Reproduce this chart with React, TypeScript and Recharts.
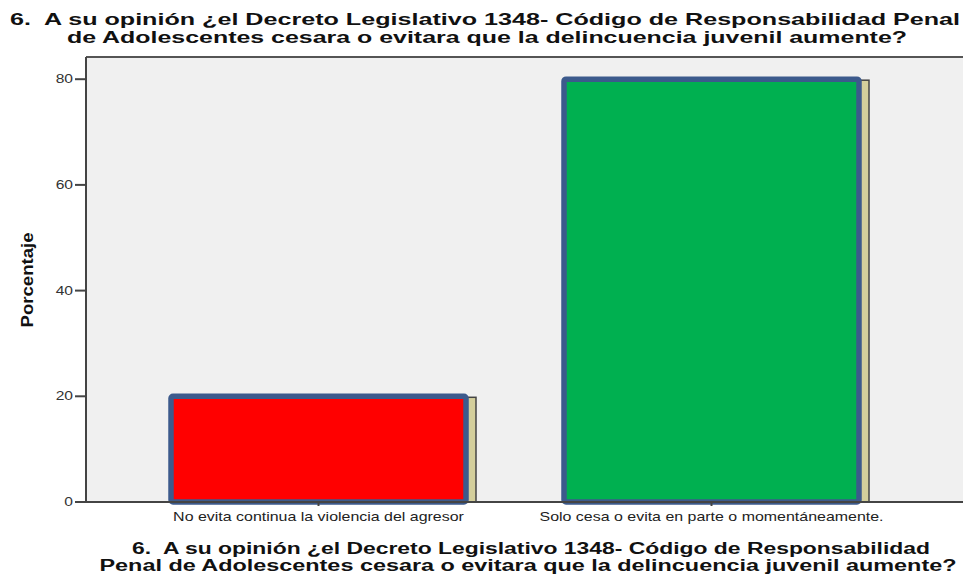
import { BarChart, Bar, XAxis, YAxis, CartesianGrid, ReferenceLine } from 'recharts'

const categories = [
  'No evita continua la violencia del agresor',
  'Solo cesa o evita en parte o momentáneamente.',
]
const porcentajes = [20, 80]
const barColors = ['#ff0000', '#00b050']
const yTicks = [0, 20, 40, 60, 80]
const yMax = 84.2

const titleLines = [
  '6.  A su opinión ¿el Decreto Legislativo 1348- Código de Responsabilidad Penal',
  'de Adolescentes cesara o evitara que la delincuencia juvenil aumente?',
]
const axisTitleLines = [
  '6.  A su opinión ¿el Decreto Legislativo 1348- Código de Responsabilidad',
  'Penal de Adolescentes cesara o evitara que la delincuencia juvenil aumente?',
]

const data = categories.map((name, i) => ({ name, value: porcentajes[i], color: barColors[i] }))

const FONT = '"Liberation Sans", Arial, sans-serif'
// the SPSS export is stretched sideways, so texts get widened
const STRETCH = 1.33

// tan drop shadow on the right, then the bar with a thick blue outline
const ShadowBar = (props: any) => {
  const { x, y, width, height, payload } = props
  return (
    <g>
      <rect x={x + 10} y={y + 1} width={width} height={height - 1} fill="#d4cf9c" stroke="#444" strokeWidth={1.5} />
      <rect x={x} y={y} width={width} height={height} fill={payload.color} stroke="#3c5a8c" strokeWidth={5.5} rx={2} />
    </g>
  )
}

const XTick = (props: any) => {
  const { x, y, payload } = props
  return (
    <g transform={`translate(${x},${y + 13}) scale(${STRETCH},1)`}>
      <text x={0} y={0} textAnchor="middle" fontFamily={FONT} fontSize={12} fill="#222">
        {payload.value}
      </text>
    </g>
  )
}

const YTick = (props: any) => {
  const { x, y, payload } = props
  return (
    <g transform={`translate(${x},${y + 4}) scale(1.3,1)`}>
      <text x={0} y={0} textAnchor="end" fontFamily={FONT} fontSize={12} fill="#333">
        {payload.value}
      </text>
    </g>
  )
}

const YLabel = () => (
  <text
    x={33}
    y={280}
    transform="rotate(-90 33 280)"
    textAnchor="middle"
    fontFamily={FONT}
    fontWeight="bold"
    fontSize={17}
    textLength={95}
    lengthAdjust="spacingAndGlyphs"
    fill="#111"
  >
    Porcentaje
  </text>
)

const pre = { whiteSpace: 'pre' } as const

export default function App() {
  return (
    <div style={{ position: 'absolute', left: 0, top: 0, width: 963, height: 575, background: '#fff' }}>
      <BarChart width={963} height={575} data={data} margin={{ top: 57, right: 0, bottom: 43, left: 0 }}>
        <CartesianGrid fill="#f0f0f0" horizontal={false} vertical={false} />
        <ReferenceLine y={yMax} stroke="#555" strokeWidth={2} />
        <XAxis
          dataKey="name"
          height={30}
          padding={{ left: 36, right: 55 }}
          stroke="#444"
          strokeWidth={2}
          tickSize={4}
          tick={<XTick />}
        />
        <YAxis
          width={86}
          domain={[0, yMax]}
          ticks={yTicks}
          stroke="#444"
          strokeWidth={2}
          tickSize={11}
          tickMargin={2}
          tick={<YTick />}
          label={<YLabel />}
        />
        <Bar dataKey="value" barSize={295} shape={<ShadowBar />} isAnimationActive={false} />
      </BarChart>
      <svg width={963} height={575} style={{ position: 'absolute', left: 0, top: 0, pointerEvents: 'none' }}>
        <g fontFamily={FONT} fontWeight="bold" fill="#111" textAnchor="middle">
          <text x={485} y={25} fontSize={17} textLength={950} lengthAdjust="spacingAndGlyphs" style={pre}>{titleLines[0]}</text>
          <text x={487} y={43} fontSize={17} textLength={840} lengthAdjust="spacingAndGlyphs" style={pre}>{titleLines[1]}</text>
          <text x={531} y={554} fontSize={16} textLength={798} lengthAdjust="spacingAndGlyphs" style={pre}>{axisTitleLines[0]}</text>
          <text x={528} y={571} fontSize={16} textLength={857} lengthAdjust="spacingAndGlyphs" style={pre}>{axisTitleLines[1]}</text>
        </g>
      </svg>
    </div>
  )
}
